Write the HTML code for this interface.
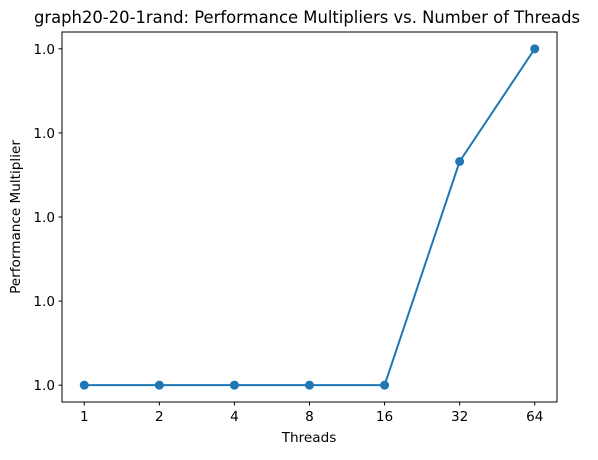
<!DOCTYPE html>
<html><head><meta charset="utf-8"><style>
body{margin:0;background:#fff}
svg text{font-family:"DejaVu Sans","Liberation Sans",sans-serif;fill:#000}
</style></head><body>
<svg width="598" height="455" viewBox="0 0 598 455">
<text x="307" y="23" font-size="16.4" text-anchor="middle">graph20-20-1rand: Performance Multipliers vs. Number of Threads</text>
<g id="plot"></g>
<rect x="62" y="32" width="495" height="370" fill="none" stroke="#000" stroke-width="1"/>
<text x="309" y="442" font-size="13.6" text-anchor="middle">Threads</text>
<text transform="translate(20,217) rotate(-90)" font-size="13.6" text-anchor="middle">Performance Multiplier</text>
</svg>
<script>
const categories=["1","2","4","8","16","32","64"];
const values=[0,0,0,0,0,2.66,4];
const yTicks=[0,1,2,3,4];
const yTickLabels=["1.0","1.0","1.0","1.0","1.0"];
const NS="http://www.w3.org/2000/svg";
const g=document.getElementById('plot');
const L=62,R=557,T=32,B=402;
const yMin=-0.2,yMax=4.2;
function xs(i){const pad=(R-L)*0.045;return L+pad+i*((R-L-2*pad)/(categories.length-1));}
function ys(v){return B-(v-yMin)/(yMax-yMin)*(B-T);}
function mk(t,a){const e=document.createElementNS(NS,t);for(const k in a)e.setAttribute(k,a[k]);g.appendChild(e);return e;}
yTicks.forEach((v,i)=>{
 const y=ys(v);
 const t=mk('line',{x1:L-3.5,x2:L,y1:y,y2:y,stroke:'#000'});
 
 
 const tx=mk('text',{x:L-7,y:y+5,'font-size':13.6,'text-anchor':'end'});
 tx.textContent=yTickLabels[i];
 
 
});
categories.forEach((c,i)=>{
 const x=xs(i);
 const t=mk('line',{x1:x,x2:x,y1:B,y2:B+3.5,stroke:'#000'});
 
 
 const tx=mk('text',{x:x,y:B+19,'font-size':13.6,'text-anchor':'middle'});
 tx.textContent=c;
 
 
});
const pts=values.map((v,i)=>xs(i)+','+ys(v)).join(' ');
const pl=mk('polyline',{points:pts,fill:'none',stroke:'#1f77b4','stroke-width':2});


values.forEach((v,i)=>{
 const c=mk('circle',{cx:xs(i),cy:ys(v),r:4.5,fill:'#1f77b4'});
 
 
});
</script>
</body></html>
